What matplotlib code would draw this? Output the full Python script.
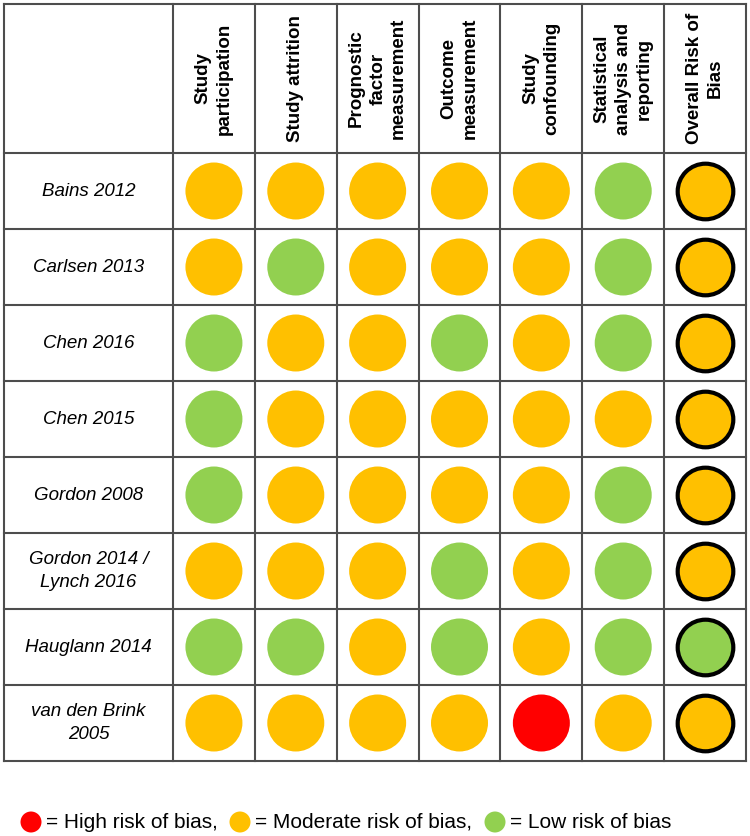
import matplotlib
matplotlib.use("Agg")
from matplotlib import pyplot as plt
import numpy as np

# Risk of bias table data
studies = ["Bains 2012", "Carlsen 2013", "Chen 2016", "Chen 2015", "Gordon 2008",
           "Gordon 2014 /\nLynch 2016", "Hauglann 2014", "van den Brink\n2005"]
domains = ["Study\nparticipation", "Study attrition", "Prognostic\nfactor\nmeasurement",
           "Outcome\nmeasurement", "Study\nconfounding", "Statistical\nanalysis and\nreporting",
           "Overall Risk of\nBias"]
# H = high, M = moderate, L = low
ratings = [
    ["M", "M", "M", "M", "M", "L", "M"],
    ["M", "L", "M", "M", "M", "L", "M"],
    ["L", "M", "M", "L", "M", "L", "M"],
    ["L", "M", "M", "M", "M", "M", "M"],
    ["L", "M", "M", "M", "M", "L", "M"],
    ["M", "M", "M", "L", "M", "L", "M"],
    ["L", "L", "M", "L", "M", "L", "L"],
    ["M", "M", "M", "M", "H", "M", "M"],
]
legend_labels = ["= High risk of bias,", "= Moderate risk of bias,", "= Low risk of bias"]
legend_keys = ["H", "M", "L"]

colors = {"H": "#FF0000", "M": "#FFC000", "L": "#92D050"}

fig = plt.figure(figsize=(7.5, 8.36), dpi=100)
ax = fig.add_axes([0, 0, 1, 1])
ax.set_xlim(0, 750)
ax.set_ylim(836, 0)
ax.axis("off")

# grid layout in pixels
left, first_w, right = 4, 173, 746
top, head_h, bottom = 4, 153, 761
col_edges = np.concatenate([[left], np.linspace(first_w, right, len(domains) + 1)])
row_edges = np.concatenate([[top], np.linspace(head_h, bottom, len(studies) + 1)])
col_mid = (col_edges[1:-1] + col_edges[2:]) / 2
row_mid = (row_edges[1:-1] + row_edges[2:]) / 2

line_kw = dict(color="#4d4d4d", lw=1.5, solid_capstyle="projecting")
for x in col_edges:
    ax.plot([x, x], [top, bottom], **line_kw)
for y in row_edges:
    ax.plot([left, right], [y, y], **line_kw)

# headers
for j, d in enumerate(domains):
    ax.text(col_mid[j], (top + head_h) / 2, d, rotation=90, ha="center", va="center",
            fontsize=13.5, fontweight="bold", family="Liberation Sans",
            multialignment="center", linespacing=1.3)

# study names
for i, s in enumerate(studies):
    ax.text((col_edges[0] + col_edges[1]) / 2, row_mid[i], s, ha="center", va="center",
            fontsize=13.5, style="italic", family="Liberation Sans",
            multialignment="center", linespacing=1.45)

# circles
d_pt = 57 * 0.72
n_dom = len(domains)
for i, row in enumerate(ratings):
    for j, r in enumerate(row):
        if j == n_dom - 1:
            ax.scatter(col_mid[j], row_mid[i], s=(d_pt - 1) ** 2, c=colors[r],
                       edgecolors="black", linewidths=3.0, zorder=3)
        else:
            ax.scatter(col_mid[j], row_mid[i], s=d_pt ** 2, c=colors[r],
                       edgecolors="none", zorder=3)

# legend
leg_y = 822
leg_x = [31, 240, 495]
for x, k, lab in zip(leg_x, legend_keys, legend_labels):
    ax.scatter(x, leg_y, s=(21 * 0.72) ** 2, c=colors[k], edgecolors="none")
    ax.text(x + 15, leg_y, lab, ha="left", va="center", fontsize=15,
            family=["Liberation Sans Narrow", "Liberation Sans"])

fig.savefig("out.png", dpi=100)
